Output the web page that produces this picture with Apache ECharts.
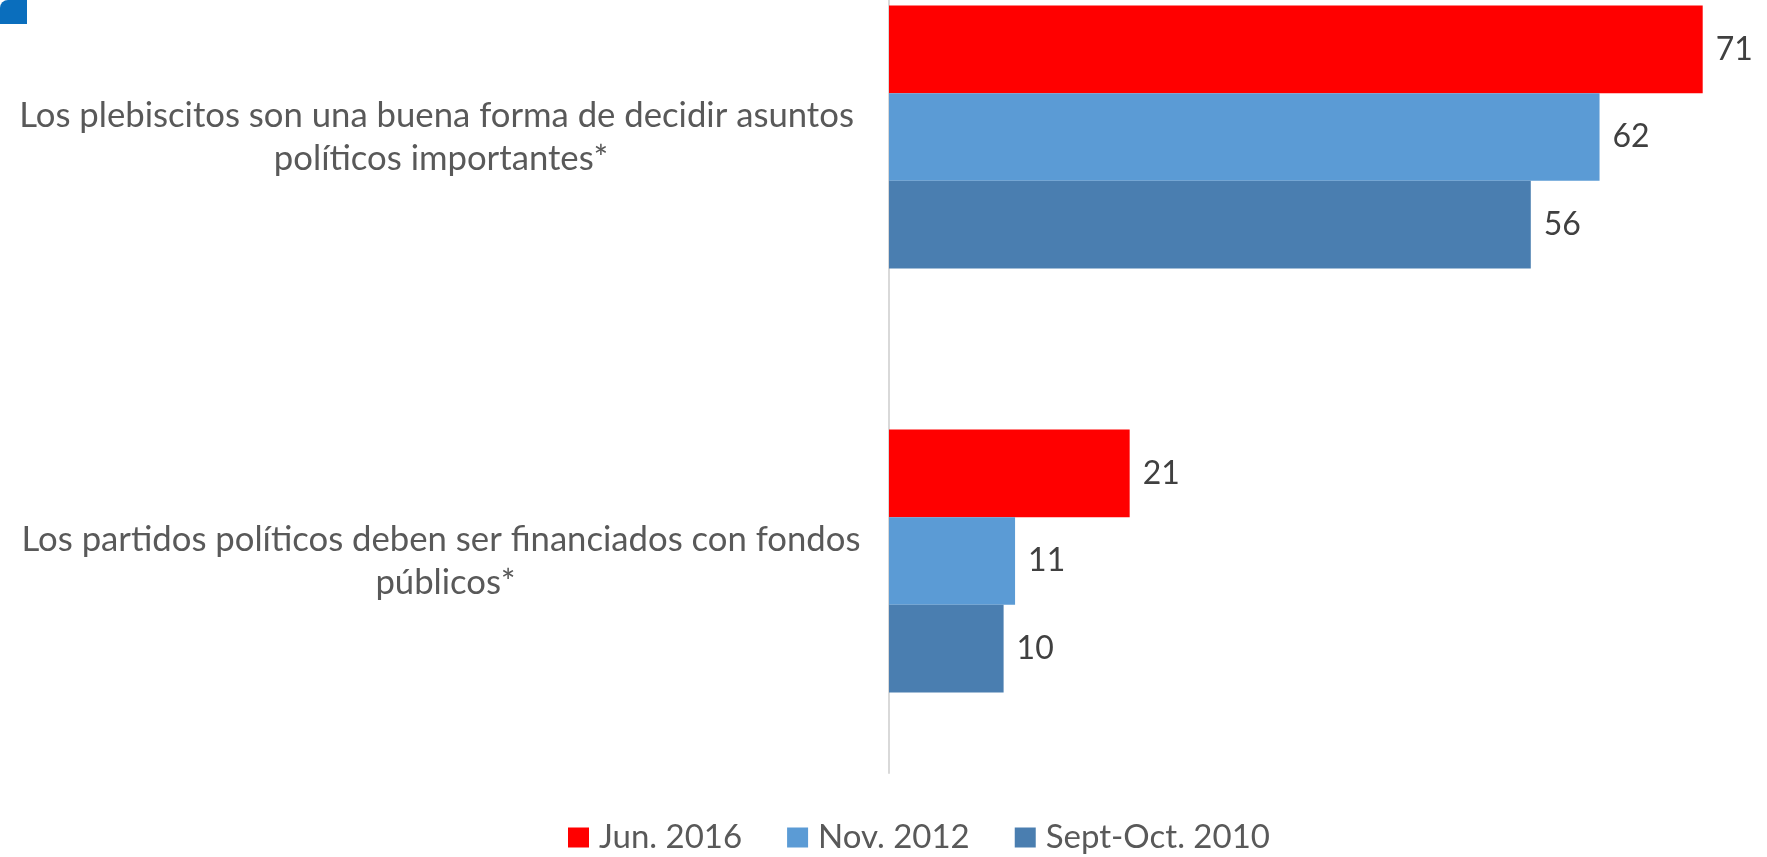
<!DOCTYPE html>
<html>
<head>
<meta charset="utf-8">
<script src="https://cdn.jsdelivr.net/npm/echarts@6/dist/echarts.min.js"></script>
<style>
  html, body { margin: 0; padding: 0; background: #fff; overflow: hidden; }
  /* the original picture is cut off at the top, so the chart starts 75px above the page */
  #chart_main { width: 1767px; height: 932px; margin-top: -75px; }
</style>
</head>
<body>
<div id="chart_main"></div>
<script type="text/javascript">
// categories (top to bottom)
var categories = [
    'Los plebiscitos son una buena forma de decidir asuntos políticos importantes*',
    'Los partidos políticos deben ser financiados con fondos públicos*'
];
var seriesNames = ['Jun. 2016', 'Nov. 2012', 'Sept-Oct. 2010'];
var jun2016 = [71, 21];
var nov2012 = [62, 11];
var sept2010 = [56, 10];
var colors = ['#FF0000', '#5B9BD5', '#4A7EB0'];

var font = 'Lato, "Open Sans", sans-serif';
var myChart = echarts.init(document.getElementById('chart_main'));

var series_data = [jun2016, nov2012, sept2010].map(function (vals, i) {
    return {
        name: seriesNames[i],
        type: 'bar',
        data: vals,
        barGap: '0%',
        barCategoryGap: '38%',
        itemStyle: { color: colors[i] },
        label: {
            show: true,
            position: 'right',
            distance: 13,
            color: '#404040',
            fontSize: 32,
            fontFamily: font
        }
    };
});

var option = {
    animation: false,
    grid: { left: 889, right: 7, top: 0, bottom: 84 },
    legend: {
        data: seriesNames,
        left: 563,
        top: 891,
        itemWidth: 21,
        itemHeight: 20,
        itemGap: 45,
        icon: 'rect',
        textStyle: { color: '#595959', fontSize: 33, fontFamily: font, padding: [0, 0, 0, 5] }
    },
    xAxis: {
        type: 'value',
        min: 0,
        max: 76,
        show: false
    },
    yAxis: {
        type: 'category',
        data: categories,
        inverse: true,
        axisLine: { lineStyle: { color: '#D9D9D9', width: 2 } },
        axisTick: { show: false },
        axisLabel: {
            margin: 448,
            color: '#595959',
            fontSize: 34.7,
            fontFamily: font,
            lineHeight: 43,
            align: 'center',
            width: 870,
            overflow: 'break'
        }
    },
    graphic: [{
        type: 'rect',
        left: 0,
        top: 75,
        shape: { width: 27, height: 24, r: [8, 0, 0, 0] },
        style: { fill: '#0A6EBD' }
    }],
    series: series_data
};
myChart.setOption(option);
</script>
</body>
</html>
